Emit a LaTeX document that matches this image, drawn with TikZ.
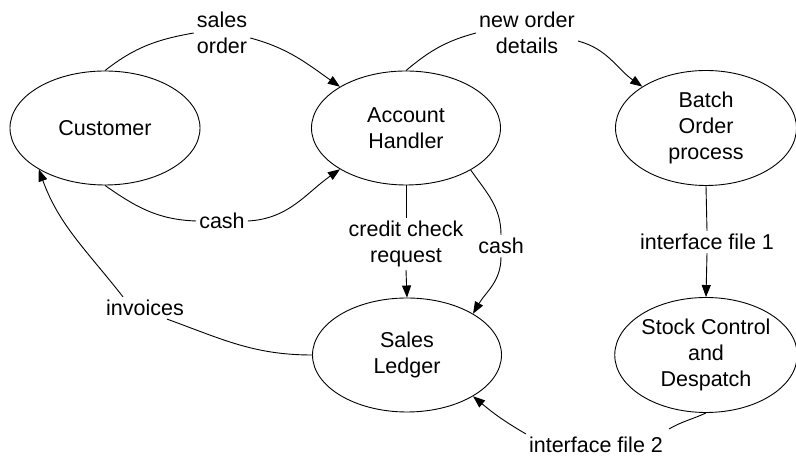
\documentclass[tikz,border=0pt]{standalone}
\usepackage{fontspec}
\setmainfont{Liberation Sans}
\usetikzlibrary{shapes.geometric,arrows.meta}
\begin{document}
\begin{tikzpicture}[x=1pt,y=1pt,
  every node/.style={font=\fontsize{21.5}{26}\selectfont},
  proc/.style={draw,ellipse,inner sep=0pt,line width=0.9pt,align=center,minimum height=114pt},
  flowlabel/.style={align=center,inner sep=3pt},
  flow/.style={line width=0.9pt},
  arr/.style={flow,-{Triangle[length=12pt,width=9pt]}}]
\fill[white] (0,0) rectangle (796,457);
\useasboundingbox (0,0) rectangle (796,457);

% processes
\node[proc,minimum width=190pt] (cust)  at (105,329) {Customer};
\node[proc,minimum width=189pt] (ah)    at (406,329) {Account\\Handler};
\node[proc,minimum width=181pt,minimum height=115pt] (batch) at (706,329) {Batch\\Order\\process};
\node[proc,minimum width=189pt] (sl)    at (407,102) {Sales\\Ledger};
\node[proc,minimum width=181pt,minimum height=115pt] (stock) at (706,102) {Stock Control\\and\\Despatch};

% data flow labels
\node[flowlabel] (so)    at (222,424) {sales\\order};
\node[flowlabel] (nod)   at (527,424) {new order\\details};
\node[flowlabel] (cash1) at (222,236) {cash};
\node[flowlabel] (ccr)   at (406,213) {credit check\\request};
\node[flowlabel] (cash2) at (501,211) {cash};
\node[flowlabel] (if1)   at (707,215) {interface file 1};
\node[flowlabel] (inv)   at (145,149) {invoices};
\node[flowlabel] (if2)   at (596,12)  {interface file 2};

% sales order
\draw[flow] (cust.north) to[out=38,in=190] (so.west);
\draw[arr]  ([yshift=-5pt]so.east) to[out=-15,in=145] (ah.148);
% new order details
\draw[flow] (ah.north) to[out=40,in=195] (nod.west);
\draw[arr]  ([yshift=-8pt]nod.east) to[out=-15,in=145] (batch.147);
% cash to account handler
\draw[flow] (cust.south) to[out=-35,in=178] (cash1.west);
\draw[arr]  (cash1.east) to[out=3,in=215] (ah.212);
% credit check request
\draw[flow] (ah.south) -- (ccr.north);
\draw[arr]  (ccr.south) -- (sl.north);
% cash to sales ledger
\draw[flow] (ah.327) to[out=-55,in=90] (cash2.north);
\draw[arr]  (cash2.south) to[out=-90,in=60] (sl.32);
% interface file 1
\draw[flow] (batch.south) -- (if1.north);
\draw[arr]  (if1.south) -- (stock.north);
% invoices
\draw[flow] (sl.west) to[out=180,in=-20] ([xshift=22pt]inv.south);
\draw[arr]  ([xshift=-22pt]inv.north) to[out=128,in=-70] (cust.212);
% interface file 2
\draw[flow] (stock.south) to[out=-155,in=30] ([xshift=3pt,yshift=5pt]if2.north east);
\draw[arr]  (if2.north west) to[out=150,in=-40] (sl.328);
\end{tikzpicture}
\end{document}
